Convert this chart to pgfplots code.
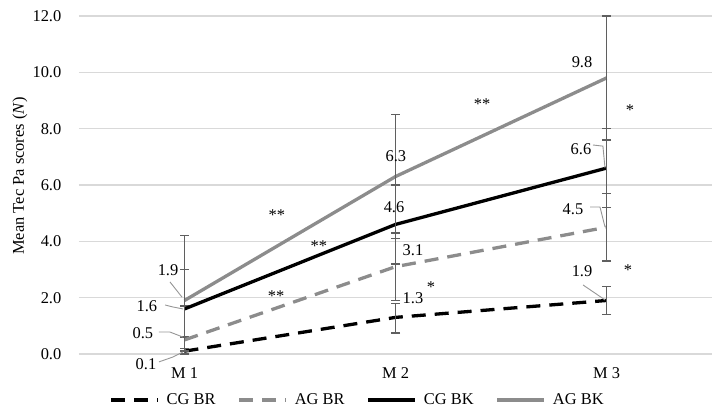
\documentclass[border=0pt]{standalone}
\usepackage{fontspec}
\setmainfont{Liberation Serif}
\usepackage{pgfplots}
\pgfplotsset{compat=1.18}
\definecolor{agray}{RGB}{140,140,140}
\definecolor{ebar}{RGB}{95,95,95}
\definecolor{gridc}{RGB}{217,217,217}
\definecolor{lead}{RGB}{150,150,150}
\pgfplotsset{
  eb/.style={error bars/.cd, y dir=both, y explicit, error mark=-,
    error bar style={ebar, line width=1.4bp, solid},
    error mark options={ebar, line width=1.4bp, mark size=4.5bp, solid, rotate=90}},
}

\begin{document}
\fontsize{16.5}{19}\selectfont
\begin{tikzpicture}
\begin{axis}[
  scale only axis, width=633bp, height=338bp,
  xmin=0.5, xmax=3.5, ymin=0, ymax=12,
  xtick={1,2,3}, xticklabels={M 1,M 2,M 3},
  ytick={0,2,...,12},
  /pgf/number format/assume math mode=true,
  yticklabel={\pgfmathprintnumber[fixed,fixed zerofill,precision=1]{\tick}},
  yticklabel style={xshift=-12bp},
  xticklabel style={yshift=-8bp},
  ymajorgrids, major grid style={gridc, line width=1.4bp},
  axis line style={draw=none}, major tick length=0pt,
  clip=false,
  every axis y label/.style={at={(axis description cs:-0.0932,0.527)}, rotate=90, anchor=center},
  ylabel={Mean Tec Pa scores (\textit{N})},
  legend style={at={(axis description cs:0.440,-0.136)}, anchor=center, draw=none, fill=none,
    legend columns=4, inner sep=0pt,
    /tikz/every even column/.append style={column sep=20bp}},
  legend image code/.code={\draw[#1] (0bp,0bp) -- (47bp,0bp);},
]
% CG BR
\addplot[black, line width=3.3bp, dash pattern=on 14bp off 9bp, eb] coordinates {
  (1,0.1) += (0,0.5) -= (0,0.1)
  (2,1.3) += (0,0.5) -= (0,0.55)
  (3,1.9) += (0,0.5) -= (0,0.5)
};
\addlegendentry{\hspace{5bp}CG BR}
% AG BR
\addplot[agray, line width=3.3bp, dash pattern=on 14bp off 9bp, eb] coordinates {
  (1,0.5) += (0,1.2) -= (0,0.5)
  (2,3.1) += (0,1.2) -= (0,1.2)
  (3,4.5) += (0,1.2) -= (0,1.2)
};
\addlegendentry{\hspace{5bp}AG BR}
% CG BK
\addplot[black, line width=3.3bp, eb] coordinates {
  (1,1.6) += (0,1.4) -= (0,1.4)
  (2,4.6) += (0,1.4) -= (0,1.4)
  (3,6.6) += (0,1.4) -= (0,1.4)
};
\addlegendentry{\hspace{5bp}CG BK}
% AG BK
\addplot[agray, line width=3.3bp, eb] coordinates {
  (1,1.9) += (0,2.3) -= (0,1.8)
  (2,6.3) += (0,2.2) -= (0,2.2)
  (3,9.8) += (0,2.2) -= (0,2.2)
};
\addlegendentry{\hspace{5bp}AG BK}

% leader lines
\draw[lead, line width=0.9bp] (axis cs:0.879,-0.28) -- (axis cs:0.945,-0.107) -- (axis cs:0.992,0.07);
\draw[lead, line width=0.9bp] (axis cs:0.879,0.78) -- (axis cs:0.931,0.78) -- (axis cs:0.993,0.60);
\draw[lead, line width=0.9bp] (axis cs:0.908,1.74) -- (axis cs:0.945,1.67) -- (axis cs:0.993,1.60);
\draw[lead, line width=0.9bp] (axis cs:0.931,2.56) -- (axis cs:0.988,2.02);
\draw[lead, line width=0.9bp] (axis cs:2.936,7.42) -- (axis cs:2.983,7.38) -- (axis cs:2.993,6.60);
\draw[lead, line width=0.9bp] (axis cs:2.922,5.22) -- (axis cs:2.969,5.22) -- (axis cs:2.993,4.51);
\draw[lead, line width=0.9bp] (axis cs:2.889,2.45) -- (axis cs:2.993,1.92);

% data labels
\node[inner sep=0pt] at (axis cs:0.8175,-0.355) {0.1};
\node[inner sep=0pt] at (axis cs:0.803,0.746) {0.5};
\node[inner sep=0pt] at (axis cs:0.822,1.704) {1.6};
\node[inner sep=0pt] at (axis cs:0.922,2.982) {1.9};
\node[inner sep=0pt] at (axis cs:2.002,7.03) {6.3};
\node[inner sep=0pt] at (axis cs:1.993,5.22) {4.6};
\node[inner sep=0pt] at (axis cs:2.083,3.69) {3.1};
\node[inner sep=0pt] at (axis cs:2.083,1.99) {1.3};
\node[inner sep=0pt] at (axis cs:2.884,10.37) {9.8};
\node[inner sep=0pt] at (axis cs:2.879,7.28) {6.6};
\node[inner sep=0pt] at (axis cs:2.841,5.15) {4.5};
\node[inner sep=0pt] at (axis cs:2.884,2.95) {1.9};

% significance marks
\node[inner sep=0pt, yshift=-3bp] at (axis cs:1.438,5.04) {**};
\node[inner sep=0pt, yshift=-3bp] at (axis cs:1.637,3.94) {**};
\node[inner sep=0pt, yshift=-3bp] at (axis cs:1.434,2.17) {**};
\node[inner sep=0pt, yshift=-3bp] at (axis cs:2.168,2.49) {*};
\node[inner sep=0pt, yshift=-3bp] at (axis cs:2.41,8.98) {**};
\node[inner sep=0pt, yshift=-3bp] at (axis cs:3.111,8.77) {*};
\node[inner sep=0pt, yshift=-3bp] at (axis cs:3.102,3.09) {*};
\end{axis}
\pgfresetboundingbox
\path[use as bounding box] ([shift={(-79bp,-64bp)}]current axis.south west) rectangle ([shift={(11bp,16bp)}]current axis.north east);
\end{tikzpicture}
\end{document}
